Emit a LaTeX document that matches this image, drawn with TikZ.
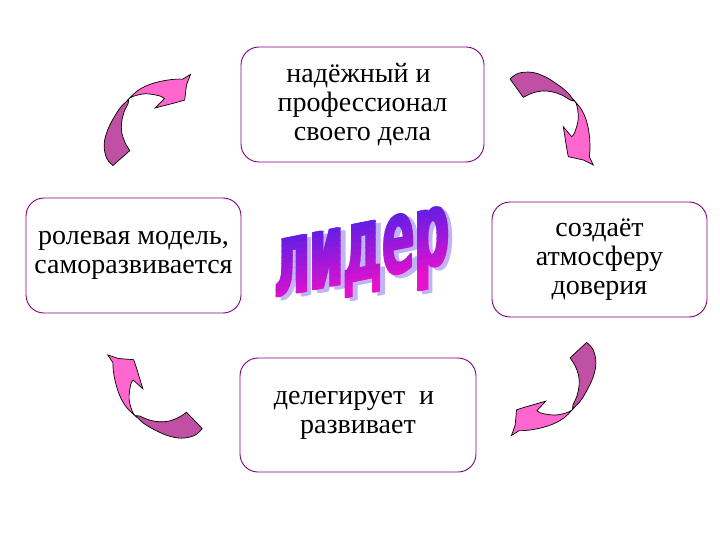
\documentclass[tikz,border=0pt]{standalone}
\usepackage{fontspec}
\setmainfont{Liberation Serif}
\newfontfamily\wordfont{DejaVu Sans}
\usetikzlibrary{positioning}
\tikzset{>=stealth}
\definecolor{boxline}{RGB}{128,0,128}
\definecolor{ribbondark}{RGB}{192,80,164}
\definecolor{ribbonlight}{RGB}{255,102,206}
\definecolor{wordtop}{RGB}{95,30,228}
\definecolor{wordbot}{RGB}{228,18,205}
\definecolor{wordshadow}{RGB}{192,180,244}
\tikzset{
  box/.style={draw=boxline, line width=0.9pt, rounded corners=18pt, align=center, inner sep=1pt, font=\fontsize{28}{29}\selectfont},
  tailpart/.style={fill=ribbondark, draw=black, line width=0.7pt},
  headpart/.style={fill=ribbonlight, draw=black, line width=0.7pt},
  word/.style={inner sep=0pt, anchor=base, transform shape, font=\wordfont\bfseries\fontsize{100}{100}\selectfont},
  cyclearrow/.pic={
    \filldraw[tailpart] plot[smooth,tension=.6] coordinates {(-41,-39) (-32.7,-44.7) (-19.3,-45.7) (-6,-41.3) (7.3,-33) (17.3,-24.7) (23,-17)}
      -- plot[smooth,tension=.6] coordinates {(19,-18) (10.7,-23) (0.7,-26.3) (-9.3,-27) (-19.3,-24.7) (-27.7,-20.7)} -- cycle;
    \filldraw[headpart] plot[smooth,tension=.6] coordinates {(22,-19) (30.7,-8) (35.7,3.7) (38.3,17) (39,30.3) (38.3,38.7)}
      -- (42.3,47) -- (32.3,42) -- (17.3,38.7) -- (15.7,30.3) -- (12.3,8.7)
      -- plot[smooth,tension=.6] coordinates {(20.7,18.7) (24,13.7) (27.3,0.3) (25.7,-13) (22,-19)} -- cycle;
  }
}
\begin{document}
\begin{tikzpicture}[x=1pt,y=-1pt]
\useasboundingbox[fill=white] (0,0) rectangle (720,540);
\node[box, minimum width=243pt, minimum height=115pt] (reliable) at (362.5,104.5) {надёжный и\hspace*{8pt}\\профессионал\hspace*{18pt}\\своего дела};
\node[box, minimum width=215pt, minimum height=115pt] (trust) at (599.5,259.5) {создаёт\\атмосферу\hspace*{9pt}\\доверия};
\node[box, minimum width=236pt, minimum height=114pt] (delegate) at (358,415) {делегирует~ и\hspace*{8pt}\\развивает};
\node[box, minimum width=215pt, minimum height=115pt] (rolemodel) at (133.5,255.5) {ролевая модель,\\саморазвивается};
%%%%%%%%%%%%
\pic at (551,118) {cyclearrow};
\pic[rotate=-83] at (552.9,387.9) {cyclearrow};
\pic[rotate=-172] at (156.2,395.6) {cyclearrow};
\pic[rotate=95.5] at (147.8,121) {cyclearrow};
%%%%%%%%%%%%
\begin{scope}[shift={(362,252)}, yslant=0.2]
\foreach \j in {0,1,2}
  \node[word, text=wordshadow] (leadershadow\j) at (3.5+1.3*\j,33) {\scalebox{0.48}[1.06]{лидер}};
\foreach \k in {0,...,11}{
  \pgfmathtruncatemacro\mix{100*\k/11}
  \pgfmathsetmacro\ya{ifthenelse(\k==0,-80,-35+6*\k)}
  \pgfmathsetmacro\yb{ifthenelse(\k==11,80,-28.4+6*\k)}
  \begin{scope}
    \clip (-120,\ya) rectangle (120,\yb);
    \foreach \j in {0,1,2}
      \node[word, text=wordbot!\mix!wordtop] (leader\k\j) at (-1.3+1.3*\j,29) {\scalebox{0.48}[1.06]{лидер}};
  \end{scope}
}
\end{scope}
\end{tikzpicture}
\end{document}
